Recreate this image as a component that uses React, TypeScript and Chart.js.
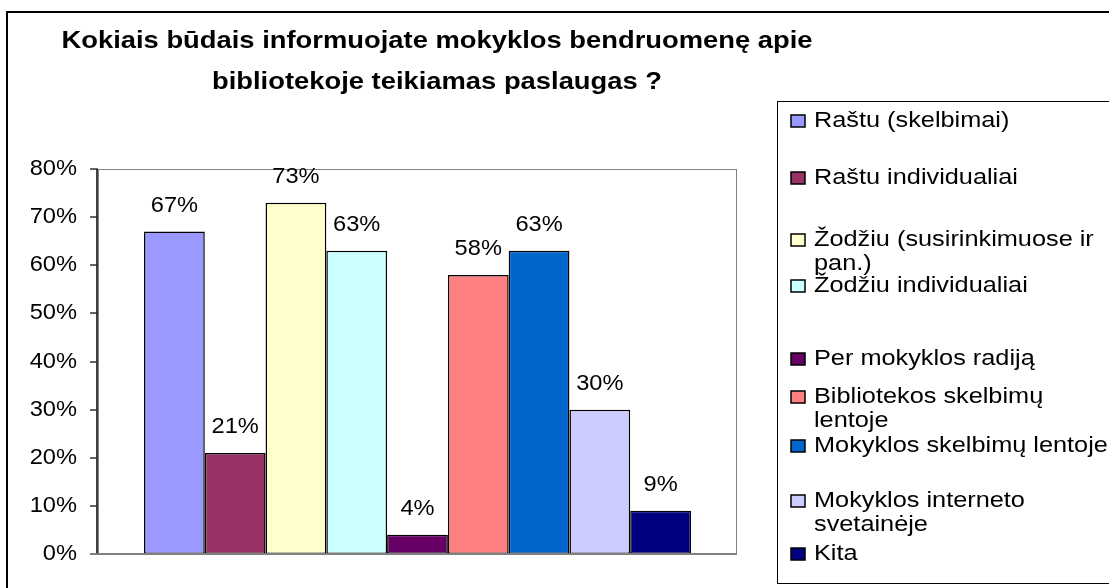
import React, { useEffect, useRef } from "react";
import { Chart, registerables } from "chart.js";

Chart.register(...registerables);

// ---- data ----
const titleLines = [
  "Kokiais būdais informuojate mokyklos bendruomenę apie",
  "bibliotekoje teikiamas paslaugas ?",
];
const categories = [""];
const seriesLabels = [
  "Raštu (skelbimai)",
  "Raštu individualiai",
  "Žodžiu (susirinkimuose ir pan.)",
  "Žodžiu individualiai",
  "Per mokyklos radiją",
  "Bibliotekos skelbimų lentoje",
  "Mokyklos skelbimų lentoje",
  "Mokyklos interneto svetainėje",
  "Kita",
];
const seriesValues = [67, 21, 73, 63, 4, 58, 63, 30, 9];
const seriesColors = [
  "#9999FF",
  "#993366",
  "#FFFFCC",
  "#CCFFFF",
  "#660066",
  "#FF8080",
  "#0066CC",
  "#CCCCFF",
  "#000080",
];
const yTickValues = [0, 10, 20, 30, 40, 50, 60, 70, 80];
const yTickLabels = ["0%", "10%", "20%", "30%", "40%", "50%", "60%", "70%", "80%"];

// ---- layout / style ----
const FONT_FAMILY = '"Liberation Sans", Arial, sans-serif';
const LABEL_FONT = `21.5px ${FONT_FAMILY}`;
const LABEL_SX = 1.1;
const TITLE_FONT = `bold 24px ${FONT_FAMILY}`;
const TITLE_SX = 1.14;
const TITLE_CX = 437;
const TITLE_BASELINES = [48, 89];
const LEGEND_FONT = `22px ${FONT_FAMILY}`;
const LEGEND_SX = 1.15;
const LEGEND_TEXT_X = 814;
const LEGEND_MARKER_X = 791;
const LEGEND_BASELINES = [127, 184, 246, 292, 365, 403, 452, 507, 560];
const LEGEND_LINE_GAP = 24;
const LEGEND_WRAP = 302;

function stretchText(
  ctx: CanvasRenderingContext2D,
  text: string,
  x: number,
  y: number,
  align: CanvasTextAlign,
  sx: number
) {
  ctx.save();
  ctx.translate(x, y);
  ctx.scale(sx, 1);
  ctx.textAlign = align;
  ctx.textBaseline = "alphabetic";
  ctx.fillText(text, 0, 0);
  ctx.restore();
}

function wrapLines(ctx: CanvasRenderingContext2D, text: string, maxW: number, sx: number) {
  const words = text.split(" ");
  const lines: string[] = [];
  let cur = "";
  for (const w of words) {
    const test = cur ? cur + " " + w : w;
    if (cur && ctx.measureText(test).width * sx > maxW) {
      lines.push(cur);
      cur = w;
    } else {
      cur = test;
    }
  }
  if (cur) lines.push(cur);
  return lines;
}

const decorPlugin = {
  id: "excelDecor",
  beforeDraw(chart: any) {
    const ctx: CanvasRenderingContext2D = chart.ctx;
    const { left, top, right, bottom } = chart.chartArea;
    ctx.save();
    ctx.fillStyle = "#ffffff";
    ctx.fillRect(0, 0, chart.width, chart.height);
    // plot area frame
    ctx.strokeStyle = "#808080";
    ctx.lineWidth = 1;
    ctx.strokeRect(left + 0.5, top + 0.5, right - left - 1, bottom - top);
    ctx.restore();
  },
  afterDatasetsDraw(chart: any) {
    const ctx: CanvasRenderingContext2D = chart.ctx;
    const { left, top, bottom } = chart.chartArea;
    const yScale = chart.scales.y;
    ctx.save();

    // bottom axis
    ctx.strokeStyle = "#808080";
    ctx.lineWidth = 2;
    ctx.beginPath();
    ctx.moveTo(left - 8, bottom);
    ctx.lineTo(chart.chartArea.right, bottom);
    ctx.stroke();

    // left axis
    ctx.strokeStyle = "#404040";
    ctx.lineWidth = 2;
    ctx.beginPath();
    ctx.moveTo(left - 1, top);
    ctx.lineTo(left - 1, bottom);
    ctx.stroke();

    // ticks + labels
    ctx.fillStyle = "#000";
    ctx.font = LABEL_FONT;
    yTickValues.forEach((v, i) => {
      const y = Math.round(yScale.getPixelForValue(v));
      ctx.strokeStyle = v === 0 ? "#808080" : "#303030";
      ctx.lineWidth = 1.5;
      ctx.beginPath();
      ctx.moveTo(left - 8, y);
      ctx.lineTo(left, y);
      ctx.stroke();
      stretchText(ctx, yTickLabels[i], 77, y + 6, "right", LABEL_SX);
    });

    // value labels
    chart.data.datasets.forEach((ds: any, i: number) => {
      const meta = chart.getDatasetMeta(i);
      const bar = meta.data[0];
      if (!bar) return;
      stretchText(ctx, ds.data[0] + "%", bar.x, bar.y - 20, "center", LABEL_SX);
    });
    ctx.restore();
  },
  afterDraw(chart: any) {
    const ctx: CanvasRenderingContext2D = chart.ctx;
    ctx.save();
    // outer frame (extends beyond visible area)
    ctx.strokeStyle = "#000";
    ctx.lineWidth = 2;
    ctx.strokeRect(7, 12, 3000, 3000);

    // title
    ctx.fillStyle = "#000";
    ctx.font = TITLE_FONT;
    titleLines.forEach((t, i) => stretchText(ctx, t, TITLE_CX, TITLE_BASELINES[i], "center", TITLE_SX));

    // legend box
    ctx.strokeStyle = "#000";
    ctx.lineWidth = 1;
    ctx.strokeRect(777.5, 101.5, 3000, 482);

    // legend entries
    ctx.font = LEGEND_FONT;
    chart.data.datasets.forEach((ds: any, i: number) => {
      const base = LEGEND_BASELINES[i];
      ctx.fillStyle = ds.backgroundColor;
      ctx.fillRect(LEGEND_MARKER_X, base - 12, 14, 12);
      ctx.strokeStyle = "#000";
      ctx.lineWidth = 1.5;
      ctx.strokeRect(LEGEND_MARKER_X, base - 12, 14, 12);
      ctx.fillStyle = "#000";
      const lines = wrapLines(ctx, ds.label, LEGEND_WRAP, LEGEND_SX);
      lines.forEach((ln, j) => stretchText(ctx, ln, LEGEND_TEXT_X, base + j * LEGEND_LINE_GAP, "left", LEGEND_SX));
    });
    ctx.restore();
  },
};

export default function App() {
  const ref = useRef<HTMLCanvasElement>(null);
  useEffect(() => {
    if (!ref.current) return;
    const chart = new Chart(ref.current, {
      type: "bar",
      data: {
        labels: categories,
        datasets: seriesLabels.map((label, i) => ({
          label,
          data: [seriesValues[i]],
          backgroundColor: seriesColors[i],
          borderColor: "#000000",
          borderWidth: 1.5,
          borderSkipped: false,
          categoryPercentage: 0.856,
          barPercentage: 1,
        })),
      },
      options: {
        responsive: false,
        animation: false,
        devicePixelRatio: 1,
        events: [],
        layout: { padding: { left: 98, top: 169, right: 372, bottom: 34 } },
        scales: {
          x: { display: false },
          y: { display: false, min: 0, max: 80 },
        },
        plugins: {
          legend: { display: false },
          title: { display: false },
          tooltip: { enabled: false },
        },
      },
      plugins: [decorPlugin],
    });
    return () => chart.destroy();
  }, []);
  return (
    <div
      style={{
        position: "fixed",
        left: 0,
        top: 0,
        width: 1109,
        height: 588,
        overflow: "hidden",
        background: "#fff",
      }}
    >
      <canvas ref={ref} width={1109} height={588} style={{ display: "block", width: 1109, height: 588 }} />
    </div>
  );
}
